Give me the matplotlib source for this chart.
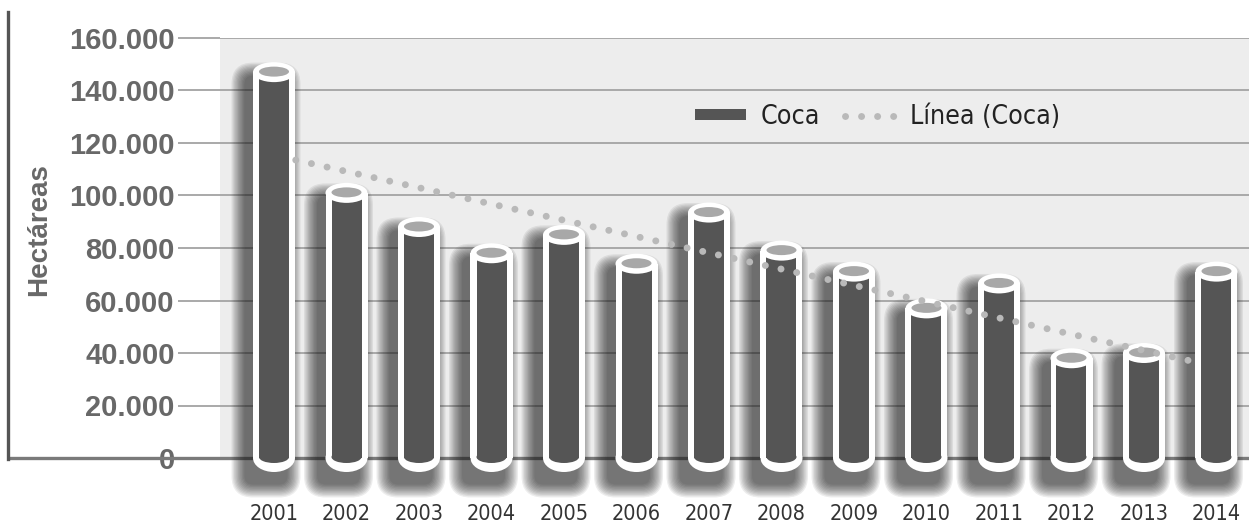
import numpy as np
import matplotlib
matplotlib.use("Agg")
import matplotlib.pyplot as plt
from matplotlib import font_manager
from matplotlib.patches import Rectangle, Ellipse, FancyBboxPatch
from matplotlib.lines import Line2D

# ---- data -------------------------------------------------------------
years = [2001, 2002, 2003, 2004, 2005, 2006, 2007,
         2008, 2009, 2010, 2011, 2012, 2013, 2014]
coca_ha = [147000, 101000, 88000, 78000, 85000, 74000, 93500,
           79000, 71000, 57000, 66500, 38000, 40000, 71000]
trend_years = [2001.3, 2013.8]
trend_ha = [113500, 36000]
y_ticks = [0, 20000, 40000, 60000, 80000, 100000, 120000, 140000, 160000]
y_tick_labels = ["0", "20.000", "40.000", "60.000", "80.000",
                 "100.000", "120.000", "140.000", "160.000"]
series_label = "Coca"
trend_label = "Línea (Coca)"
y_label = "Hectáreas"

# ---- fonts ------------------------------------------------------------
installed = {f.name for f in font_manager.fontManager.ttflist}
if "Liberation Sans Narrow" in installed:
    narrow = dict(family="Liberation Sans Narrow")
else:
    narrow = dict(family="DejaVu Sans", stretch="condensed")
bold_sans = dict(family="Liberation Sans", weight="bold")

# ---- colours ----------------------------------------------------------
BG = "#ededed"
GRID = "#a9a9a9"
BAR = "#555555"
CAP = "#a8a8a8"
TREND = "#b9b9b9"
LABEL = "#686868"

W_PX, H_PX, DPI = 1249, 525, 100
fig = plt.figure(figsize=(W_PX / DPI, H_PX / DPI), dpi=DPI)
fig.patch.set_facecolor("white")

# plot area in pixels (left, top, right, bottom measured from the top-left)
ax_l, ax_t, ax_r, ax_b = 220, 38, 1249, 458
rect = [ax_l / W_PX, 1 - ax_b / H_PX, (ax_r - ax_l) / W_PX, (ax_b - ax_t) / H_PX]

x = np.array(years) - years[0]
first_px, step_px = 274, 72.5
x_lo = -(first_px - ax_l) / step_px
x_hi = (ax_r - first_px) / step_px
y_top = 160000

# background layer: panel, grid, tick labels, base line
ax_bg = fig.add_axes(rect, zorder=0)
ax_bg.set_facecolor(BG)
ax_bg.set_xlim(x_lo, x_hi)
ax_bg.set_ylim(0, y_top)
for s in ax_bg.spines.values():
    s.set_visible(False)
ax_bg.set_yticks(y_ticks)
ax_bg.set_yticklabels(y_tick_labels, color=LABEL, fontsize=21, **bold_sans)
ax_bg.tick_params(axis="y", length=30.5, width=1.4, color=GRID, pad=2)
ax_bg.grid(axis="y", color=GRID, linewidth=1.4)
ax_bg.set_axisbelow(True)
ax_bg.set_xticks(x)
ax_bg.set_xticklabels([str(y) for y in years], fontsize=15.5,
                      color="#333333", **narrow)
ax_bg.tick_params(axis="x", length=0, pad=33)
ax_bg.plot([(8 - ax_l) / (ax_r - ax_l), 1], [0, 0], color="#7a7a7a",
           linewidth=2.4, transform=ax_bg.get_yaxis_transform(),
           clip_on=False, solid_capstyle="butt")

fig.text(39 / W_PX, 1 - 230 / H_PX, y_label, rotation=90, ha="center",
         va="center", color=LABEL, fontsize=20, **bold_sans)
fig.add_artist(Line2D([8 / W_PX, 8 / W_PX], [1 - 12 / H_PX, 1 - 459 / H_PX],
                      color="#555555", linewidth=2.4))

# front layer: cylinders, trend line and legend
ax = fig.add_axes(rect, zorder=2)
ax.set_facecolor("none")
ax.set_xlim(x_lo, x_hi)
ax.set_ylim(0, y_top)
ax.axis("off")

px_x = (x_hi - x_lo) / (ax_r - ax_l)
px_y = y_top / (ax_b - ax_t)

# ---- soft drop shadows, drawn in a pixel-unit layer in between --------
ax_sh = fig.add_axes([0, 0, 1, 1], zorder=1)
ax_sh.set_facecolor("none")
ax_sh.set_xlim(0, W_PX)
ax_sh.set_ylim(0, H_PX)
ax_sh.axis("off")

n_layers = 11
for xi, v in zip(x, coca_ha):
    cx, ytop = ax.transData.transform((xi, v))
    _, yzero = ax.transData.transform((xi, 0))
    left = cx - 29
    bottom = yzero - 14 - 12
    width = 42
    height = (ytop - 4) - bottom
    for i in range(n_layers):
        pad = 0.5 + 1.3 * i
        ax_sh.add_patch(FancyBboxPatch(
            (left, bottom), width, height,
            boxstyle=f"round,pad={pad},rounding_size={pad + 8}",
            facecolor="#1c1c1c", edgecolor="none", alpha=0.08))

# ---- cylinders ----------------------------------------------------------
out_w, in_w = 42 * px_x, 30 * px_x
for xi, v in zip(x, coca_ha):
    # white shell with rounded bottom
    ax.add_patch(Rectangle((xi - out_w / 2, 0), out_w, v, facecolor="white",
                           edgecolor="none", zorder=3, clip_on=False))
    ax.add_patch(Ellipse((xi, 0), out_w, 28 * px_y, facecolor="white",
                         edgecolor="none", zorder=3, clip_on=False))
    # dark body
    ax.add_patch(Rectangle((xi - in_w / 2, 0), in_w, v, facecolor=BAR,
                           edgecolor="none", zorder=3.2, clip_on=False))
    ax.add_patch(Ellipse((xi, 1 * px_y), in_w, 12 * px_y, facecolor=BAR,
                         edgecolor="none", zorder=3.2, clip_on=False))
    # top rim and lid
    ax.add_patch(Ellipse((xi, v), out_w, 20 * px_y, facecolor="white",
                         edgecolor="none", zorder=3.4, clip_on=False))
    ax.add_patch(Ellipse((xi, v + 0.5 * px_y), in_w, 10 * px_y, facecolor=CAP,
                         edgecolor="none", zorder=3.6, clip_on=False))

# ---- dotted trend line -------------------------------------------------
trend_style = dict(color=TREND, linewidth=5, linestyle=(0, (0.01, 2.3)),
                   dash_capstyle="round")
ax.plot(np.array(trend_years) - years[0], trend_ha, zorder=5, **trend_style)

# ---- legend ------------------------------------------------------------
handles = [Rectangle((0, 0), 1, 1, facecolor=BAR, edgecolor="none"),
           Line2D([], [], **trend_style)]
leg = ax.legend(handles, [series_label, trend_label], ncol=2, frameon=False,
                loc="center left", bbox_to_anchor=((695 - ax_l) / (ax_r - ax_l),
                                                   (ax_b - 117) / (ax_b - ax_t)),
                borderpad=0, borderaxespad=0, handlelength=1.9,
                handleheight=0.3, handletextpad=0.55, columnspacing=0.95,
                prop=dict(size=19.2, **narrow))
for t in leg.get_texts():
    t.set_color("#222222")
leg.set_zorder(6)

fig.savefig("out.png", dpi=DPI, facecolor="white")
